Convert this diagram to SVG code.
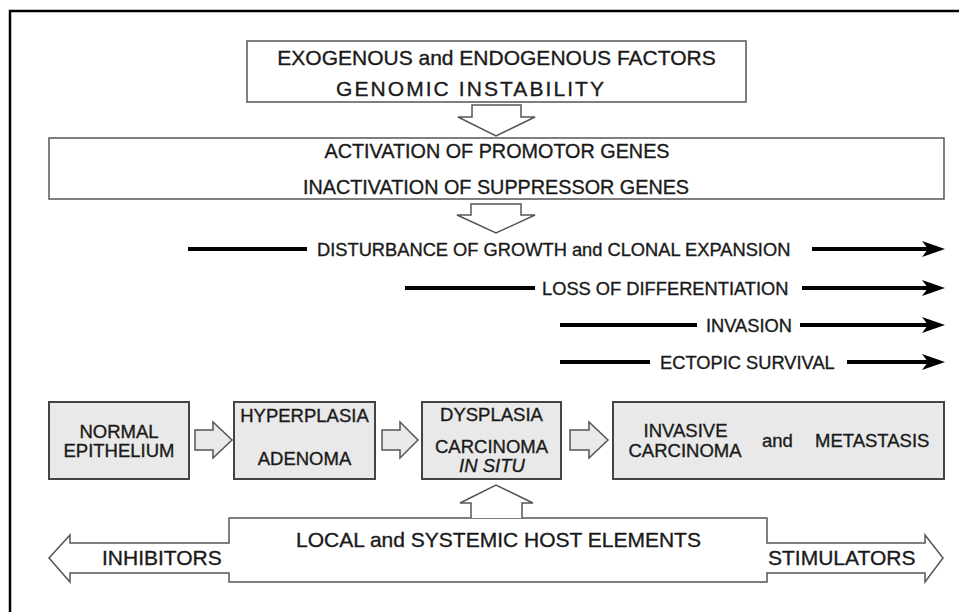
<svg xmlns="http://www.w3.org/2000/svg" width="959" height="612" viewBox="0 0 959 612">
<style>
text{font-family:"Liberation Sans",Arial,sans-serif;fill:#1a1a1a;stroke:#1a1a1a;stroke-width:0.35}
.t1{font-size:21px}
.t2{font-size:19.8px}
.tr{font-size:18.3px}
.tb{font-size:18.5px}
.tl{font-size:21px}
.wbox{fill:#fff;stroke:#555;stroke-width:1.5}
.gbox{fill:#e9e9e9;stroke:#444;stroke-width:2}
.hol{fill:#fff;stroke:#555;stroke-width:1.5;stroke-linejoin:miter}
.holg{fill:#e9e9e9;stroke:#555;stroke-width:1.5}
.ln{stroke:#000;stroke-width:4;fill:none}
.ah{fill:#000}
</style>
<rect width="959" height="612" fill="#fff"/>
<path d="M10,612 L10,11 L959,11" fill="none" stroke="#000" stroke-width="2.5"/>

<g id="factors">
<rect class="wbox" x="247" y="41" width="499" height="61"/>
<text class="t1" x="496.5" y="65" text-anchor="middle">EXOGENOUS and ENDOGENOUS FACTORS</text>
<text class="t1" x="336" y="96" textLength="268" lengthAdjust="spacing">GENOMIC INSTABILITY</text>
</g>

<g id="genes">
<rect class="wbox" x="49" y="138" width="895" height="61"/>
<text class="t2" x="497" y="158" text-anchor="middle">ACTIVATION OF PROMOTOR GENES</text>
<text class="t2" x="496" y="194" text-anchor="middle">INACTIVATION OF SUPPRESSOR GENES</text>
</g>

<g id="normal">
<rect class="gbox" x="49" y="402" width="140" height="77"/>
<text class="tb" x="119" y="438" text-anchor="middle">NORMAL</text>
<text class="tb" x="119" y="457" text-anchor="middle">EPITHELIUM</text>
</g>
<g id="hyperplasia">
<rect class="gbox" x="234" y="402" width="141" height="77"/>
<text class="tb" x="304.5" y="422" text-anchor="middle">HYPERPLASIA</text>
<text class="tb" x="304.5" y="465" text-anchor="middle">ADENOMA</text>
</g>
<g id="dysplasia">
<rect class="gbox" x="422" y="402" width="139" height="77"/>
<text class="tb" x="491.5" y="421" text-anchor="middle">DYSPLASIA</text>
<text class="tb" x="491.5" y="453" text-anchor="middle">CARCINOMA</text>
<text class="tb" x="492" y="472" text-anchor="middle" font-style="italic">IN SITU</text>
</g>
<g id="invasive">
<rect class="gbox" x="613" y="402" width="331" height="77"/>
<text class="tb" x="685.5" y="437" text-anchor="middle">INVASIVE</text>
<text class="tb" x="685" y="457" text-anchor="middle">CARCINOMA</text>
<text class="tb" x="762" y="447">and</text>
<text class="tb" x="815" y="447">METASTASIS</text>
</g>

<g id="host">
<path class="hol" d="M229,518 L767,518 L767,543 L925,543 L925,535 L943,558 L925,582 L925,573 L767,573 L767,582 L229,582 L229,573 L70,573 L70,582 L49,558 L70,535 L70,543 L229,543 Z"/>
<text class="tl" x="296" y="547">LOCAL and SYSTEMIC HOST ELEMENTS</text>
<text class="tl" x="102" y="565">INHIBITORS</text>
<text class="tl" x="768" y="565">STIMULATORS</text>
</g>

<g id="processes">
<text class="tr" x="317" y="255.5">DISTURBANCE OF GROWTH and CLONAL EXPANSION</text>
<text class="tr" x="542" y="294.5">LOSS OF DIFFERENTIATION</text>
<text class="tr" x="706" y="331.5">INVASION</text>
<text class="tr" x="660" y="368.5">ECTOPIC SURVIVAL</text>
</g>

<g id="connectors">
<path class="hol" d="M472,105 L521,105 L521,117 L535,117 L496,136 L458,117 L472,117 Z"/>
<path class="hol" d="M471,204 L521,204 L521,215 L535,215 L496,233 L457,215 L471,215 Z"/>
<path class="holg" d="M195,430 L213,430 L213,422 L232,440 L213,458 L213,450 L195,450 Z"/>
<path class="holg" d="M382,430 L400,430 L400,422 L418,440 L400,458 L400,450 L382,450 Z"/>
<path class="holg" d="M570,430 L589,430 L589,422 L608,440 L589,458 L589,450 L570,450 Z"/>
<path class="hol" d="M471,518 L471,503 L460,503 L496,485 L533,503 L522,503 L522,518"/>
<line class="ln" x1="188" y1="249" x2="307" y2="249"/>
<line class="ln" x1="812" y1="249" x2="930" y2="249"/>
<polygon class="ah" points="945,249 922,241 928,249 922,257"/>
<line class="ln" x1="405" y1="288" x2="535" y2="288"/>
<line class="ln" x1="802" y1="288" x2="930" y2="288"/>
<polygon class="ah" points="945,288 922,280 928,288 922,296"/>
<line class="ln" x1="560" y1="325" x2="697" y2="325"/>
<line class="ln" x1="800" y1="325" x2="930" y2="325"/>
<polygon class="ah" points="945,325 922,317 928,325 922,333"/>
<line class="ln" x1="560" y1="362" x2="650" y2="362"/>
<line class="ln" x1="847" y1="362" x2="930" y2="362"/>
<polygon class="ah" points="945,362 922,354 928,362 922,370"/>
</g>
</svg>
